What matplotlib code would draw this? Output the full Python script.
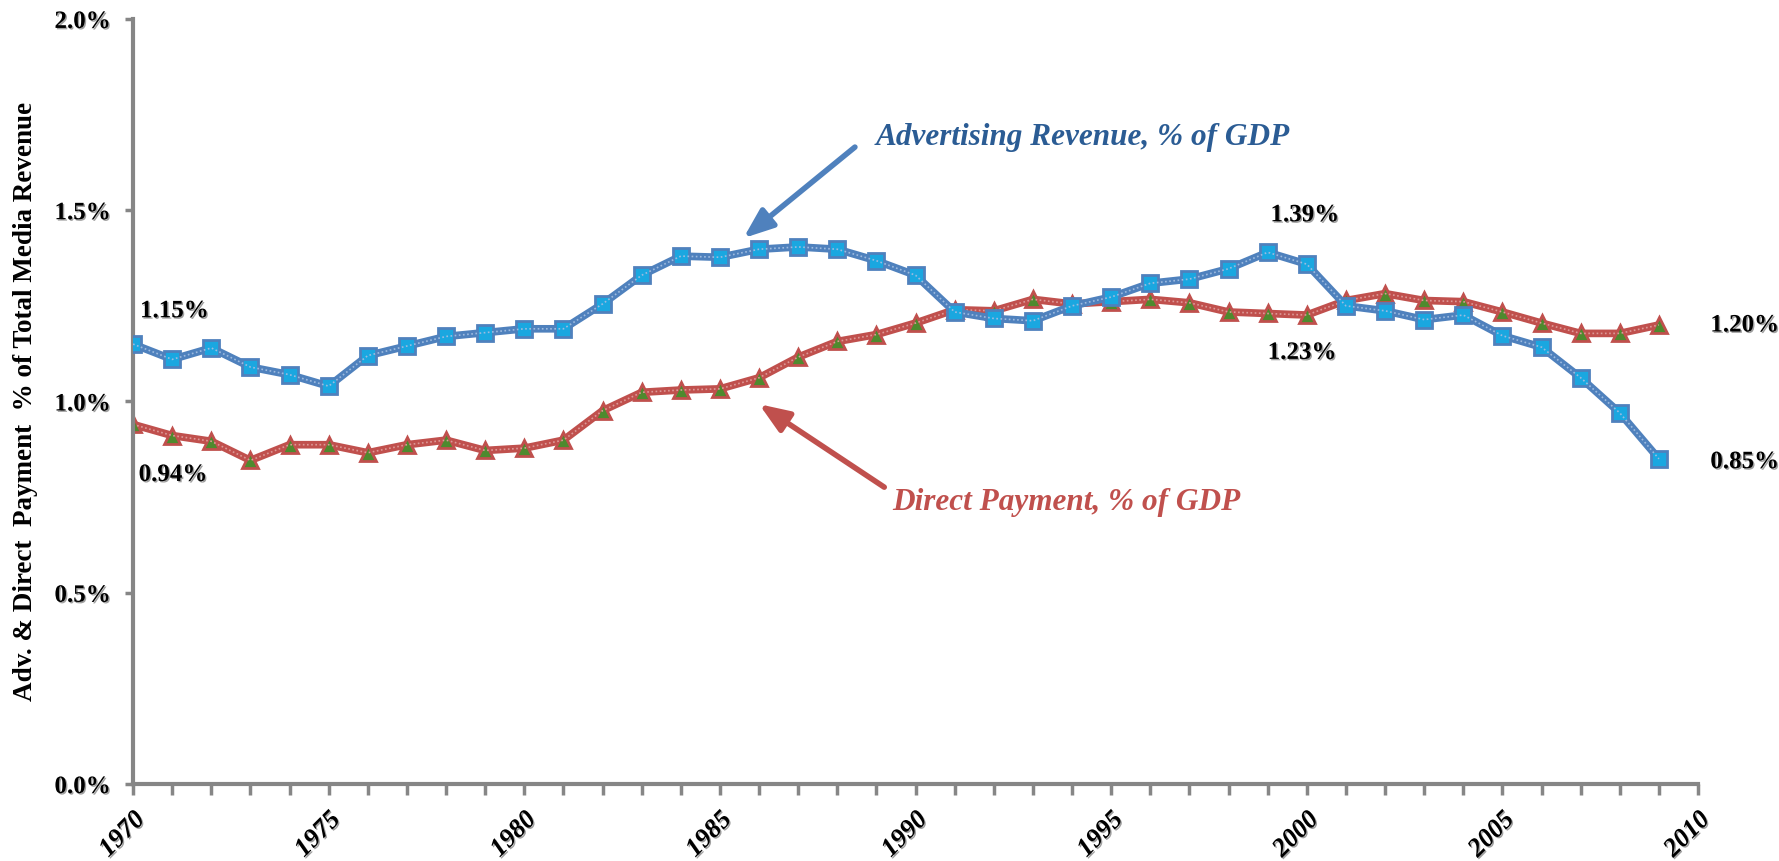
import numpy as np
import matplotlib
matplotlib.use("Agg")
import matplotlib.pyplot as plt
import matplotlib.patheffects as pe
from matplotlib.ticker import FuncFormatter, MultipleLocator

years = list(range(1970, 2010))
advertising = [1.15, 1.11, 1.14, 1.09, 1.07, 1.04, 1.12, 1.145, 1.17, 1.18,
               1.19, 1.19, 1.255, 1.33, 1.38, 1.377, 1.398, 1.404, 1.398, 1.368,
               1.33, 1.234, 1.217, 1.211, 1.25, 1.273, 1.309, 1.32, 1.347, 1.39,
               1.359, 1.25, 1.237, 1.214, 1.226, 1.172, 1.142, 1.062, 0.97, 0.85]
direct = [0.94, 0.911, 0.896, 0.846, 0.887, 0.887, 0.866, 0.887, 0.899, 0.872,
          0.878, 0.899, 0.976, 1.024, 1.03, 1.033, 1.062, 1.116, 1.157, 1.175,
          1.205, 1.24, 1.237, 1.267, 1.255, 1.261, 1.267, 1.258, 1.234, 1.23,
          1.226, 1.264, 1.282, 1.264, 1.261, 1.234, 1.205, 1.178, 1.178, 1.20]
xticks = [1970, 1975, 1980, 1985, 1990, 1995, 2000, 2005, 2010]
yticks = [0.0, 0.5, 1.0, 1.5, 2.0]
# (year index, series, text, offset in points)
point_labels = [(0, "adv", "1.15%", (5, 24)), (0, "dir", "0.94%", (4, -36)),
                (29, "adv", "1.39%", (2, 27)), (29, "dir", "1.23%", (0, -28)),
                (39, "dir", "1.20%", (37, 0)), (39, "adv", "0.85%", (37, -2))]

SERIF = ["Liberation Serif", "DejaVu Serif"]
BLUE = "#4F81BD"
RED = "#C0504D"
GRAY = "#868686"

fig = plt.figure(figsize=(17.79, 8.61), dpi=100)
ax = fig.add_axes([0.0748, 0.0894, 0.8797, 0.8886])

shadow = [pe.withSimplePatchShadow(offset=(1, -1), shadow_rgbFace="#888888", alpha=0.8)]

ax.plot(years, advertising, color=BLUE, lw=5.5, zorder=3,
        marker="s", markersize=11, markerfacecolor="#1AA7E0", markeredgecolor=BLUE,
        markeredgewidth=2)
ax.plot(years, advertising, color="#9DBBE0", lw=1.2, ls=(0, (1, 1.5)), zorder=3.1)
ax.plot(years, direct, color=RED, lw=5.5, zorder=2,
        marker="^", markersize=11, markerfacecolor="#4E8A2E", markeredgecolor=RED,
        markeredgewidth=2)
ax.plot(years, direct, color="#DD9997", lw=1.2, ls=(0, (1, 1.5)), zorder=2.1)

ax.set_xlim(1970, 2010)
ax.set_ylim(0, 2.0)
ax.set_xticks(xticks)
ax.xaxis.set_minor_locator(MultipleLocator(1))
ax.set_yticks(yticks)
ax.yaxis.set_major_formatter(FuncFormatter(lambda v, p: f"{v:.1f}%"))

for s in ["top", "right"]:
    ax.spines[s].set_visible(False)
for s in ["left", "bottom"]:
    ax.spines[s].set_color(GRAY)
    ax.spines[s].set_linewidth(3)

ax.tick_params(axis="y", which="major", direction="out", length=6, width=2.5, color=GRAY, pad=10)
ax.tick_params(axis="x", which="both", direction="out", length=8, width=2.5, color=GRAY, pad=9)

for lbl in ax.get_yticklabels():
    lbl.set_fontfamily(SERIF)
    lbl.set_fontweight("bold")
    lbl.set_fontsize(18)
    lbl.set_path_effects(shadow)
for lbl in ax.get_xticklabels():
    lbl.set_fontfamily(SERIF)
    lbl.set_fontweight("bold")
    lbl.set_fontstyle("italic")
    lbl.set_fontsize(19)
    lbl.set_rotation(45)
    lbl.set_ha("right")
    lbl.set_va("top")
    lbl.set_rotation_mode("anchor")
    lbl.set_path_effects(shadow)

ax.set_ylabel("Adv. & Direct  Payment  % of Total Media Revenue", family=SERIF,
              fontweight="bold", fontsize=19.5, labelpad=12)

for i, series, text, off in point_labels:
    vals = advertising if series == "adv" else direct
    ax.annotate(text, (years[i], vals[i]), xytext=off, textcoords="offset points",
                ha="left", va="center", family=SERIF, fontweight="bold", fontsize=18,
                path_effects=shadow, zorder=5)

arrow_kw = dict(arrowstyle="-|>,head_length=0.9,head_width=0.35", lw=4,
                mutation_scale=20, shrinkA=0, shrinkB=0)
ax.annotate("", xy=(1985.6, 1.427), xytext=(1988.45, 1.665),
            arrowprops=dict(color=BLUE, **arrow_kw))
ax.text(1988.97, 1.691, "Advertising Revenue, % of GDP", family=SERIF, fontweight="bold",
        fontstyle="italic", fontsize=22.5, color="#2B5C94", ha="left", va="center")
ax.annotate("", xy=(1986.0, 0.993), xytext=(1989.2, 0.776),
            arrowprops=dict(color=RED, **arrow_kw))
ax.text(1989.4, 0.735, "Direct Payment, % of GDP", family=SERIF, fontweight="bold",
        fontstyle="italic", fontsize=22.5, color=RED, ha="left", va="center")

fig.savefig("out.png", dpi=100)
